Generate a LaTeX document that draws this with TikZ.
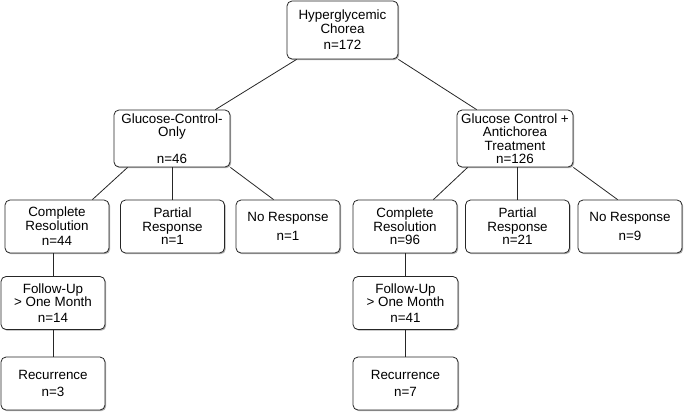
\documentclass[tikz,border=0pt]{standalone}
\usepackage{fontspec}
\setmainfont{Liberation Sans}
\usepackage{tikz}
\usetikzlibrary{shadows}

\begin{document}
\begin{tikzpicture}[x=1pt,y=1pt]
\tikzset{box/.style={draw=black!85, line width=0.8pt, rounded corners=5pt, fill=white, align=center, inner sep=0pt,
  minimum width=104pt, minimum height=53pt, font=\fontsize{13.4}{13.5}\selectfont,
  drop shadow={shadow xshift=1.2pt, shadow yshift=-1.2pt, fill=black!45, opacity=0.7}},
  wide/.style={minimum width=116pt, minimum height=57pt},
  link/.style={draw=black!85, line width=0.8pt}}
\useasboundingbox (0,0) rectangle (685,-413);
\node [box, minimum width=111pt, minimum height=58pt] (top) at (342.5,-30) {Hyperglycemic\\Chorea\\[3pt]n=172};
\node [box, wide] (gco) at (172,-138.5) {Glucose-Control-\\Only\\[13pt]n=46};
\node [box, wide] (gcat) at (515,-138.5) {Glucose Control +\\Antichorea\\Treatment\\n=126};
\node [box] (cr1) at (57,-226.5) {Complete\\Resolution\\[2pt]n=44};
\node [box] (pr1) at (172.5,-226.5) {Partial\\Response\\n=1};
\node [box] (nr1) at (288,-226.5) {No Response\\[5pt]n=1};
\node [box] (cr2) at (405,-226.5) {Complete\\Resolution\\n=96};
\node [box] (pr2) at (517.5,-226.5) {Partial\\Response\\n=21};
\node [box] (nr2) at (630,-226.5) {No Response\\[5pt]n=9};
\node [box] (fu1) at (53,-303) {Follow-Up\\> One Month\\[2pt]n=14};
\node [box] (rec1) at (53,-383.5) {Recurrence\\[4pt]n=3};
\node [box, minimum width=105pt] (fu2) at (405.5,-303) {Follow-Up\\> One Month\\[2pt]n=41};
\node [box, minimum width=105pt] (rec2) at (405.5,-383.5) {Recurrence\\[4pt]n=7};
\draw [link] ([xshift=10pt]top.south west) -- ([xshift=-15pt]gco.north east);
\draw [link] (top.south east) -- ([xshift=20pt]gcat.north west);
\draw [link] ([xshift=14pt]gco.south west) -- ([xshift=-17pt]cr1.north east);
\draw [link] (gco.south -| pr1.north) -- (pr1.north);
\draw [link] (gco.south east) -- ([xshift=38pt]nr1.north west);
\draw [link] ([xshift=11pt]gcat.south west) -- ([xshift=-24pt]cr2.north east);
\draw [link] (gcat.south -| pr2.north) -- (pr2.north);
\draw [link] (gcat.south east) -- ([xshift=40pt]nr2.north west);
\draw [link] (cr1.south -| fu1.north) -- (fu1.north);
\draw [link] (fu1.south) -- (rec1.north);
\draw [link] (cr2.south -| fu2.north) -- (fu2.north);
\draw [link] (fu2.south) -- (rec2.north);
\end{tikzpicture}
\end{document}
